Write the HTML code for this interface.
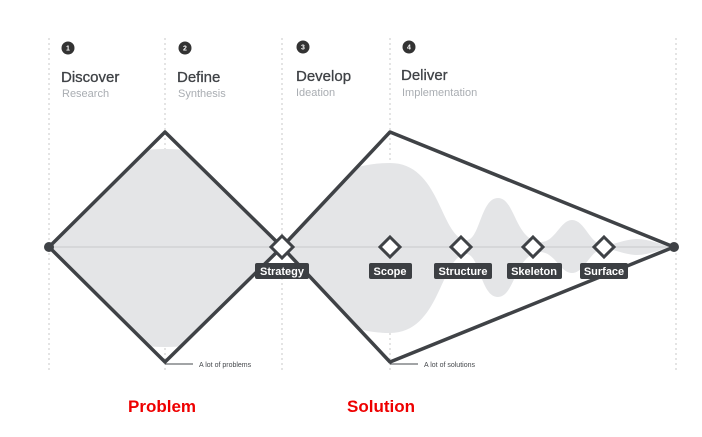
<!DOCTYPE html>
<html><head><style>
body{margin:0;background:#fff;}
svg{display:block;font-family:"Liberation Sans",Arial,sans-serif;}
</style></head><body>
<svg width="702" height="437" viewBox="0 0 702 437">
<defs><clipPath id="d1"><polygon points="49,247 165,132 282,247 165,362"/></clipPath>
<clipPath id="d2"><polygon points="282,247 390,132 674,247 390,362"/></clipPath></defs>
<g stroke="#c8c8c8" stroke-width="1" stroke-dasharray="2,3">
<line x1="49" y1="38" x2="49" y2="372"/><line x1="165" y1="38" x2="165" y2="372"/>
<line x1="282" y1="38" x2="282" y2="372"/><line x1="390" y1="38" x2="390" y2="372"/>
<line x1="676" y1="38" x2="676" y2="372"/>
</g>
<g fill="#333"><circle cx="68" cy="48" r="6.5"/><circle cx="185" cy="48" r="6.5"/><circle cx="303" cy="47" r="6.5"/><circle cx="409" cy="47" r="6.5"/></g>
<g fill="#fff" font-size="7" font-weight="bold" text-anchor="middle"><text x="68" y="50.5">1</text><text x="185" y="50.5">2</text><text x="303" y="49.5">3</text><text x="409" y="49.5">4</text></g>
<g fill="#3f4246" font-size="15" stroke="#3f4246" stroke-width="0.3"><text x="61" y="82">Discover</text><text x="177" y="82">Define</text><text x="296" y="81">Develop</text><text x="401" y="80">Deliver</text></g>
<g fill="#a9adb2" font-size="11"><text x="62" y="97">Research</text><text x="178" y="97">Synthesis</text><text x="296" y="96">Ideation</text><text x="402" y="96">Implementation</text></g>
<ellipse cx="165" cy="248" rx="150" ry="99" fill="#e4e5e7" clip-path="url(#d1)"/>
<path fill="#e4e5e7" clip-path="url(#d2)" d="M282,247 C300,200 330,163 390,163 C440,163 440,235 465,240 C480,243 480,198 498,198 C515,198 515,240 540,242 C555,243 560,220 572,220 C585,220 590,245 604,245 C615,245 625,239 637,239 C650,239 660,245 674,247 C660,249 650,255 637,255 C625,255 615,249 604,249 C590,249 585,273 572,273 C560,273 555,252 540,252 C515,254 515,297 498,297 C480,297 480,252 465,254 C440,259 440,333 390,333 C330,333 300,294 282,247Z"/>
<line x1="49" y1="247" x2="674" y2="247" stroke="#d6d7d9" stroke-width="2"/>
<g fill="none" stroke="#3f4246" stroke-width="3.5" stroke-linejoin="round">
<polygon points="49,247 165,132 282,247 165,362"/>
<polyline points="282,247 390,132 674,247 390,362 282,247"/>
</g>
<circle cx="49" cy="247" r="5" fill="#3f4246"/><circle cx="674" cy="247" r="5" fill="#3f4246"/>
<g fill="#fff" stroke="#3f4246" stroke-width="3">
<polygon points="282,236 293,247 282,258 271,247"/>
<polygon points="390,237 400,247 390,257 380,247"/>
<polygon points="461,237 471,247 461,257 451,247"/>
<polygon points="533,237 543,247 533,257 523,247"/>
<polygon points="604,237 614,247 604,257 594,247"/>
</g>
<g fill="#3c3f43">
<rect x="255" y="263" width="54" height="16" rx="2"/>
<rect x="369" y="263" width="43" height="16" rx="2"/>
<rect x="434" y="263" width="58" height="16" rx="2"/>
<rect x="507" y="263" width="55" height="16" rx="2"/>
<rect x="580" y="263" width="48" height="16" rx="2"/>
</g>
<g fill="#fff" font-size="11" font-weight="bold" text-anchor="middle">
<text x="282" y="275">Strategy</text><text x="390" y="275">Scope</text><text x="463" y="275">Structure</text><text x="534" y="275">Skeleton</text><text x="604" y="275">Surface</text>
</g>
<g stroke="#45484c" stroke-width="1"><line x1="165" y1="364" x2="193" y2="364"/><line x1="390" y1="364" x2="418" y2="364"/></g>
<g fill="#45484c" font-size="7"><text x="199" y="367">A lot of problems</text><text x="424" y="367">A lot of solutions</text></g>
<g fill="#e00" font-size="17" font-weight="bold"><text x="128" y="412">Problem</text><text x="347" y="412">Solution</text></g>
</svg>
</body></html>
